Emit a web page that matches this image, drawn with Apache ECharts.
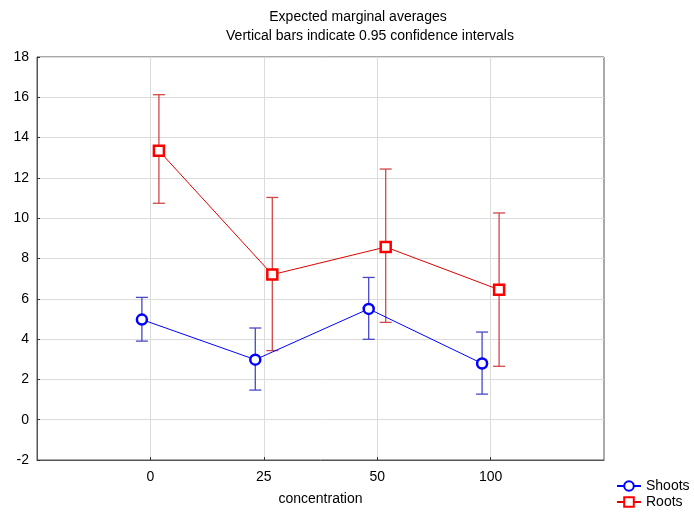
<!DOCTYPE html>
<html>
<head>
<meta charset="utf-8">
<script src="https://cdn.jsdelivr.net/npm/echarts@6/dist/echarts.min.js"></script>
<style>
  html, body { margin: 0; padding: 0; background: #fff; }
  #chart { width: 694px; height: 515px; }
</style>
</head>
<body>
<div id="chart"></div>
<script>
// concentration levels
const categories = ['0', '25', '50', '100'];

// Shoots: mean and 0.95 CI
const shootsMean = [4.97, 2.98, 5.5, 2.79];
const shootsLow = [3.9, 1.47, 3.99, 1.27];
const shootsHigh = [6.07, 4.55, 7.06, 4.35];

// Roots: mean and 0.95 CI
const rootsMean = [13.35, 7.2, 8.57, 6.45];
const rootsLow = [10.74, 3.43, 4.83, 2.65];
const rootsHigh = [16.13, 11.03, 12.44, 10.26];

const font = 'Liberation Sans, Arial, sans-serif';
const shift = 0.075; // small side-by-side shift so bars don't overlap

const chartDom = document.getElementById('chart');
const myChart = echarts.init(chartDom);

function errorBars(means, lows, highs, dx) {
  return means.map((_, i) => [i + dx, lows[i], highs[i]]);
}

function renderBar(params, api) {
  const x = api.value(0);
  const lo = api.coord([x, api.value(1)]);
  const hi = api.coord([x, api.value(2)]);
  const half = 6;
  const style = { stroke: api.visual('color'), lineWidth: 1.3 };
  return {
    type: 'group',
    children: [
      { type: 'line', shape: { x1: lo[0], y1: lo[1], x2: hi[0], y2: hi[1] }, style },
      { type: 'line', shape: { x1: hi[0] - half, y1: hi[1], x2: hi[0] + half, y2: hi[1] }, style },
      { type: 'line', shape: { x1: lo[0] - half, y1: lo[1], x2: lo[0] + half, y2: lo[1] }, style }
    ]
  };
}

const option = {
  animation: false,
  textStyle: { fontFamily: font },
  title: [
    {
      text: 'Expected marginal averages',
      left: 353, top: 5, textAlign: 'center',
      textStyle: { fontSize: 14, fontWeight: 'normal', color: '#000', fontFamily: font }
    },
    {
      text: 'Vertical bars indicate 0.95 confidence intervals',
      left: 365, top: 24, textAlign: 'center',
      textStyle: { fontSize: 14, fontWeight: 'normal', color: '#000', fontFamily: font }
    }
  ],
  grid: {
    left: 37, right: 90, top: 57, bottom: 55,
    show: true, borderColor: '#555', borderWidth: 1
  },
  legend: {
    orient: 'vertical',
    left: 616, top: 478,
    padding: 0,
    itemWidth: 24, itemHeight: 12, itemGap: 0,
    textStyle: { fontSize: 14, lineHeight: 16, color: '#000', fontFamily: font },
    data: ['Shoots', 'Roots']
  },
  xAxis: {
    type: 'value',
    min: -1, max: 4, interval: 1,
    name: 'concentration',
    nameLocation: 'middle',
    nameGap: 32,
    nameTextStyle: { fontSize: 14, color: '#000', fontFamily: font },
    axisLine: { show: true, onZero: false, lineStyle: { color: '#555' } },
    axisTick: { inside: true, length: 3, customValues: [0, 1, 2, 3], lineStyle: { color: '#333' } },
    axisLabel: {
      fontSize: 14, color: '#000', margin: 10,
      formatter: v => (categories[v] !== undefined ? categories[v] : '')
    },
    splitLine: { show: true, lineStyle: { color: '#dcdcdc' } }
  },
  yAxis: {
    type: 'value',
    min: -2, max: 18, interval: 2,
    axisLine: { show: true, onZero: false, lineStyle: { color: '#555' } },
    axisTick: { inside: true, length: 3, lineStyle: { color: '#333' } },
    axisLabel: { fontSize: 14, color: '#000', margin: 8 },
    splitLine: { show: true, lineStyle: { color: '#dcdcdc' } }
  },
  series: [
    {
      name: 'Shoots',
      type: 'line',
      data: shootsMean.map((v, i) => [i - shift, v]),
      symbol: 'circle',
      symbolSize: 10,
      lineStyle: { color: '#0000ff', width: 1 },
      itemStyle: { color: '#fff', borderColor: '#0000ff', borderWidth: 2.5 },
      z: 3
    },
    {
      name: 'Roots',
      type: 'line',
      data: rootsMean.map((v, i) => [i + shift, v]),
      symbol: 'rect',
      symbolSize: 10,
      lineStyle: { color: '#e00000', width: 1 },
      itemStyle: { color: '#fff', borderColor: '#ff0000', borderWidth: 2.5 },
      z: 3
    },
    {
      name: 'Shoots CI',
      type: 'custom',
      renderItem: renderBar,
      itemStyle: { color: '#4848c8' },
      data: errorBars(shootsMean, shootsLow, shootsHigh, -shift),
      z: 2
    },
    {
      name: 'Roots CI',
      type: 'custom',
      renderItem: renderBar,
      itemStyle: { color: '#d24848' },
      data: errorBars(rootsMean, rootsLow, rootsHigh, shift),
      z: 2
    }
  ]
};

myChart.setOption(option);
</script>
</body>
</html>
